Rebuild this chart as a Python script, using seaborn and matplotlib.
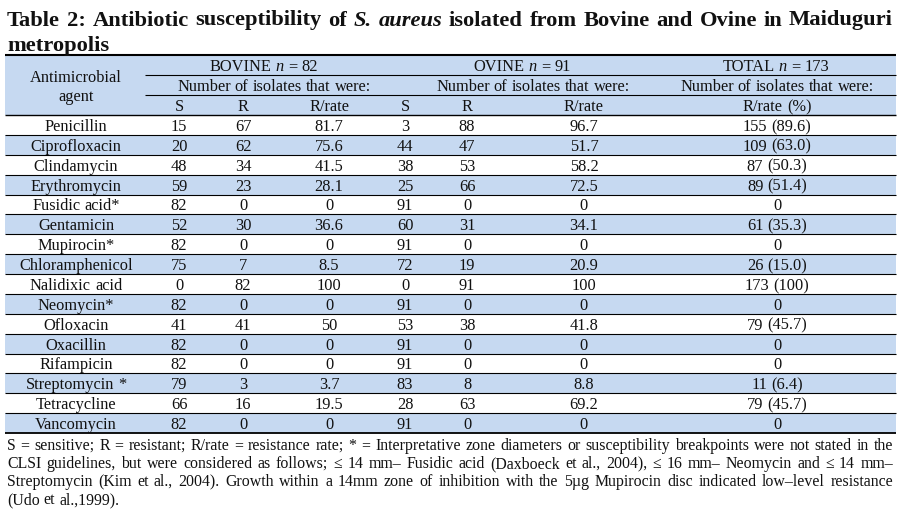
import numpy as np
import pandas as pd
import seaborn as sns
import matplotlib.pyplot as plt
from matplotlib.colors import ListedColormap
from matplotlib.patches import Rectangle

# datos de la tabla
agents = ['Penicillin', 'Ciprofloxacin', 'Clindamycin', 'Erythromycin', 'Fusidic acid*',
          'Gentamicin', 'Mupirocin*', 'Chloramphenicol', 'Nalidixic acid', 'Neomycin*',
          'Ofloxacin', 'Oxacillin', 'Rifampicin', 'Streptomycin *', 'Tetracycline', 'Vancomycin']
bovine_s = [15, 20, 48, 59, 82, 52, 82, 75, 0, 82, 41, 82, 82, 79, 66, 82]
bovine_r = [67, 62, 34, 23, 0, 30, 0, 7, 82, 0, 41, 0, 0, 3, 16, 0]
bovine_rate = [81.7, 75.6, 41.5, 28.1, 0, 36.6, 0, 8.5, 100, 0, 50, 0, 0, 3.7, 19.5, 0]
ovine_s = [3, 44, 38, 25, 91, 60, 91, 72, 0, 91, 53, 91, 91, 83, 28, 91]
ovine_r = [88, 47, 53, 66, 0, 31, 0, 19, 91, 0, 38, 0, 0, 8, 63, 0]
ovine_rate = [96.7, 51.7, 58.2, 72.5, 0, 34.1, 0, 20.9, 100, 0, 41.8, 0, 0, 8.8, 69.2, 0]
total_r = [155, 109, 87, 89, 0, 61, 0, 26, 173, 0, 79, 0, 0, 11, 79, 0]
total_pct = [89.6, 63.0, 50.3, 51.4, 0, 35.3, 0, 15.0, 100, 0, 45.7, 0, 0, 6.4, 45.7, 0]

footnote = [
    "S = sensitive; R = resistant; R/rate = resistance rate; * = Interpretative zone diameters or susceptibility breakpoints were not stated in the",
    "CLSI guidelines, but were considered as follows; \u2264 14 mm\u2013 Fusidic acid (Daxboeck et al., 2004), \u2264 16 mm\u2013 Neomycin and \u2264 14 mm\u2013",
    "Streptomycin (Kim et al., 2004). Growth within a 14mm zone of inhibition with the 5\u00b5g Mupirocin disc indicated low\u2013level resistance",
    "(Udo et al.,1999).",
]

sns.set_theme(style='white')
plt.rcParams['font.family'] = ['Liberation Serif', 'DejaVu Serif']

BLUE = '#c6d9f1'
W, H = 908, 530
X0, X1 = 5, 896
TOP, Y_HEAD, Y_BOT = 55, 115, 433
n = len(agents)
row_h = (Y_BOT - Y_HEAD) / n

fig = plt.figure(figsize=(W / 100, H / 100), dpi=100)

# franjas de las filas con heatmap
sax = fig.add_axes([X0 / W, 1 - Y_BOT / H, (X1 - X0) / W, (Y_BOT - Y_HEAD) / H])
franjas = pd.DataFrame({'banda': [i % 2 for i in range(n)]}, index=agents)
sns.heatmap(franjas, ax=sax, cmap=ListedColormap(['white', BLUE]), vmin=0, vmax=1,
            cbar=False, xticklabels=False, yticklabels=False)
sax.axis('off')

ax = fig.add_axes([0, 0, 1, 1])
ax.set_xlim(0, W)
ax.set_ylim(H, 0)
ax.axis('off')
ax.patch.set_visible(False)
r = fig.canvas.get_renderer()


def palabras(words, y, x, size, align='center', x_end=None, weight='normal'):
    # words: lista de (texto, estilo)
    ts = [ax.text(0, y, w, fontsize=size, style=st, weight=weight, ha='left',
                  va='center_baseline', color='#111111') for w, st in words]
    anchos = [t.get_window_extent(renderer=r).width for t in ts]
    gap = 0.25 * size * 100 / 72
    if align == 'justify' and len(ts) > 1:
        gap = (x_end - x - sum(anchos)) / (len(ts) - 1)
    total = sum(anchos) + gap * (len(ts) - 1)
    pos = x - total / 2 if align == 'center' else x
    for t, a in zip(ts, anchos):
        t.set_x(pos)
        pos += a + gap
    return total


def ancho_natural(words, size, weight='normal'):
    ts = [ax.text(0, 0, w, fontsize=size, style=st, weight=weight) for w, st in words]
    total = sum(t.get_window_extent(renderer=r).width for t in ts) + 0.25 * size * 100 / 72 * (len(ts) - 1)
    for t in ts:
        t.remove()
    return total


def simples(texto, estilo='normal'):
    return [(w, estilo) for w in texto.split(' ')]


# titulo
titulo = (simples('Table 2: Antibiotic susceptibility of', 'normal')
          + [('S.', 'italic'), ('aureus', 'italic')]
          + simples('isolated from Bovine and Ovine in Maiduguri', 'normal'))
ts_size = 15 * 872 / ancho_natural(titulo, 15, 'bold')
palabras(titulo, 18, 7, ts_size, align='justify', x_end=893, weight='bold')
palabras([('metropolis', 'normal')], 43, 7, ts_size, align='left', weight='bold')

# encabezado
ax.add_patch(Rectangle((X0, TOP), X1 - X0, Y_HEAD - TOP, color=BLUE, zorder=0, lw=0))
fs = 11.8
palabras(simples('Antimicrobial'), 76, 76, fs)
palabras(simples('agent'), 95, 76, fs)
grupos = [('BOVINE', '82', 264, 274), ('OVINE', '91', 522, 533), ('TOTAL', '173', 776, 777)]
for nombre, cuenta, cx, cx2 in grupos:
    palabras([(nombre, 'normal'), ('n', 'italic'), ('=', 'normal'), (cuenta, 'normal')], 65, cx, fs)
    palabras(simples('Number of isolates that were:'), 85, cx2, fs)

col_x = [179, 243, 329, 405, 467, 584, 777]
for x, lab in zip(col_x, ['S', 'R', 'R/rate', 'S', 'R', 'R/rate', 'R/rate (%)']):
    palabras(simples(lab), 105, x, fs)

# filas de datos
for i in range(n):
    y = Y_HEAD + row_h * (i + 0.5)
    if total_r[i] == 0:
        tot = '0'
    elif total_pct[i] == 100:
        tot = f'{total_r[i]} (100)'
    else:
        tot = f'{total_r[i]} ({total_pct[i]:.1f})'
    valores = [bovine_s[i], bovine_r[i], f'{bovine_rate[i]:g}', ovine_s[i], ovine_r[i],
               f'{ovine_rate[i]:g}', tot]
    palabras(simples(agents[i]), y, 76, fs)
    for x, v in zip(col_x, valores):
        palabras(simples(str(v)), y, x, fs)

# lineas
ax.hlines(TOP, X0, X1, color='black', lw=1.5)
ax.hlines([75, 95], 145, X1, color='black', lw=0.8)
ax.hlines(Y_HEAD, X0, X1, color='black', lw=1.0)
ax.hlines([Y_HEAD + row_h * i for i in range(1, n)], X0, X1, color='black', lw=0.8)
ax.hlines(Y_BOT, X0, X1, color='black', lw=1.3)

# nota al pie
fn_size = 10 * 870 / ancho_natural(simples(footnote[0]), 10)
for k, linea in enumerate(footnote):
    y = 444 + 18 * k
    if k < len(footnote) - 1:
        palabras(simples(linea), y, 7, fn_size, align='justify', x_end=893)
    else:
        palabras(simples(linea), y, 7, fn_size, align='left')

fig.savefig('out.png', dpi=100)
